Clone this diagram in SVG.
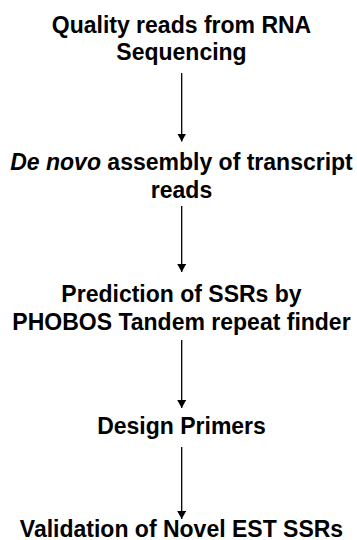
<svg xmlns="http://www.w3.org/2000/svg" width="357" height="540" viewBox="0 0 357 540">
  <style>
    .t { font-family: "Liberation Sans", Arial, sans-serif; font-weight: bold; font-size: 23px; fill: #000; text-anchor: middle; }
    .c { stroke: #000; stroke-width: 1.3; fill: none; }
  </style>
  <defs>
    <marker id="ah" viewBox="0 0 8 9" refX="8" refY="4.5" markerWidth="8" markerHeight="9" markerUnits="userSpaceOnUse" orient="auto">
      <path d="M0,0 L8,4.5 L0,9 Z" fill="#000"/>
    </marker>
  </defs>
  <rect width="357" height="540" fill="#fff"/>
  <g id="node1">
    <text class="t" x="181.5" y="32.5">Quality reads from RNA</text>
    <text class="t" x="181.5" y="60">Sequencing</text>
  </g>
  <g id="node2">
    <text class="t" x="181.5" y="170"><tspan font-style="italic">De novo</tspan> assembly of transcript</text>
    <text class="t" x="181.5" y="197.5">reads</text>
  </g>
  <g id="node3">
    <text class="t" x="181.5" y="301.5">Prediction of SSRs by</text>
    <text class="t" x="181.5" y="329.5">PHOBOS Tandem repeat finder</text>
  </g>
  <g id="node4">
    <text class="t" x="181.5" y="434">Design Primers</text>
  </g>
  <g id="node5">
    <text class="t" x="181.5" y="536.5">Validation of Novel EST SSRs</text>
  </g>
  <g id="connectors">
    <line class="c" x1="181.7" y1="73" x2="181.7" y2="141.5" marker-end="url(#ah)"/>
    <line class="c" x1="181.7" y1="206" x2="181.7" y2="272" marker-end="url(#ah)"/>
    <line class="c" x1="181.7" y1="340" x2="181.7" y2="408" marker-end="url(#ah)"/>
    <line class="c" x1="181.7" y1="447" x2="181.7" y2="519" marker-end="url(#ah)"/>
  </g>
</svg>
